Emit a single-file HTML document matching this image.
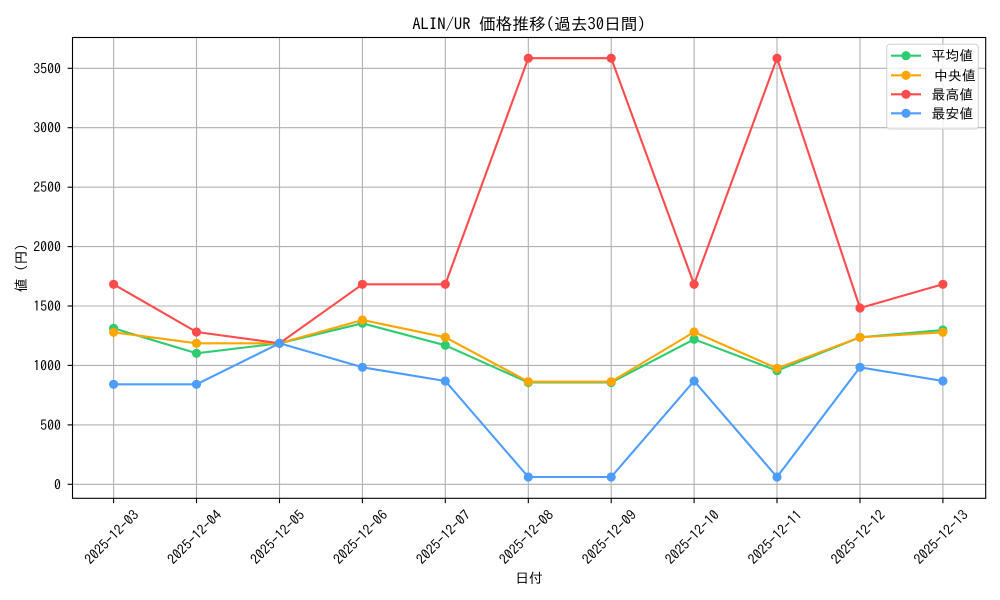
<!DOCTYPE html>
<html><head><meta charset="utf-8"><style>
html,body{margin:0;padding:0;background:#fff;}
svg{display:block;font-family:"IPAGothic","Liberation Sans","Noto Sans CJK JP",sans-serif;}
</style></head><body>
<svg width="1000" height="600" viewBox="0 0 1000 600" xmlns="http://www.w3.org/2000/svg">
<rect width="1000" height="600" fill="#fff"/>
<defs><clipPath id="ax"><rect x="72.5" y="37.5" width="913.2" height="460.8"/></clipPath></defs>
<!-- grid -->
<g stroke="#b0b0b0" stroke-width="1.1">
<line x1="113.6" y1="37.5" x2="113.6" y2="498.3"/>
<line x1="196.5" y1="37.5" x2="196.5" y2="498.3"/>
<line x1="279.5" y1="37.5" x2="279.5" y2="498.3"/>
<line x1="362.4" y1="37.5" x2="362.4" y2="498.3"/>
<line x1="445.3" y1="37.5" x2="445.3" y2="498.3"/>
<line x1="528.3" y1="37.5" x2="528.3" y2="498.3"/>
<line x1="611.2" y1="37.5" x2="611.2" y2="498.3"/>
<line x1="694.1" y1="37.5" x2="694.1" y2="498.3"/>
<line x1="777.0" y1="37.5" x2="777.0" y2="498.3"/>
<line x1="860.0" y1="37.5" x2="860.0" y2="498.3"/>
<line x1="942.9" y1="37.5" x2="942.9" y2="498.3"/>
<line x1="72.5" y1="484.3" x2="985.7" y2="484.3"/>
<line x1="72.5" y1="424.9" x2="985.7" y2="424.9"/>
<line x1="72.5" y1="365.4" x2="985.7" y2="365.4"/>
<line x1="72.5" y1="306.0" x2="985.7" y2="306.0"/>
<line x1="72.5" y1="246.6" x2="985.7" y2="246.6"/>
<line x1="72.5" y1="187.2" x2="985.7" y2="187.2"/>
<line x1="72.5" y1="127.7" x2="985.7" y2="127.7"/>
<line x1="72.5" y1="68.3" x2="985.7" y2="68.3"/>
</g>
<g clip-path="url(#ax)" stroke-width="2.1" fill="none" stroke-linejoin="round">
<!-- mean -->
<g stroke="#2ecc71">
<polyline points="113.6,328.3 196.5,353.3 279.5,343.3 362.4,323.3 445.3,345.3 528.3,382.5 611.2,382.5 694.1,339.3 777.0,370.7 860.0,337.3 942.9,330.0"/>
</g>
<g fill="#2ecc71" stroke="none">
<circle cx="113.6" cy="328.3" r="4.6"/><circle cx="196.5" cy="353.3" r="4.6"/><circle cx="279.5" cy="343.3" r="4.6"/><circle cx="362.4" cy="323.3" r="4.6"/><circle cx="445.3" cy="345.3" r="4.6"/><circle cx="528.3" cy="382.5" r="4.6"/><circle cx="611.2" cy="382.5" r="4.6"/><circle cx="694.1" cy="339.3" r="4.6"/><circle cx="777.0" cy="370.7" r="4.6"/><circle cx="860.0" cy="337.3" r="4.6"/><circle cx="942.9" cy="330.0" r="4.6"/>
</g>
<!-- median -->
<g stroke="#ffa500">
<polyline points="113.6,332.3 196.5,343.3 279.5,343.3 362.4,320.0 445.3,337.3 528.3,381.7 611.2,381.7 694.1,332.0 777.0,368.3 860.0,337.3 942.9,332.3"/>
</g>
<g fill="#ffa500" stroke="none">
<circle cx="113.6" cy="332.3" r="4.6"/><circle cx="196.5" cy="343.3" r="4.6"/><circle cx="279.5" cy="343.3" r="4.6"/><circle cx="362.4" cy="320.0" r="4.6"/><circle cx="445.3" cy="337.3" r="4.6"/><circle cx="528.3" cy="381.7" r="4.6"/><circle cx="611.2" cy="381.7" r="4.6"/><circle cx="694.1" cy="332.0" r="4.6"/><circle cx="777.0" cy="368.3" r="4.6"/><circle cx="860.0" cy="337.3" r="4.6"/><circle cx="942.9" cy="332.3" r="4.6"/>
</g>
<!-- max -->
<g stroke="#ff4b4b">
<polyline points="113.6,284.3 196.5,332.0 279.5,343.3 362.4,284.3 445.3,284.3 528.3,58.2 611.2,58.2 694.1,284.3 777.0,58.2 860.0,308.0 942.9,284.3"/>
</g>
<g fill="#ff4b4b" stroke="none">
<circle cx="113.6" cy="284.3" r="4.6"/><circle cx="196.5" cy="332.0" r="4.6"/><circle cx="279.5" cy="343.3" r="4.6"/><circle cx="362.4" cy="284.3" r="4.6"/><circle cx="445.3" cy="284.3" r="4.6"/><circle cx="528.3" cy="58.2" r="4.6"/><circle cx="611.2" cy="58.2" r="4.6"/><circle cx="694.1" cy="284.3" r="4.6"/><circle cx="777.0" cy="58.2" r="4.6"/><circle cx="860.0" cy="308.0" r="4.6"/><circle cx="942.9" cy="284.3" r="4.6"/>
</g>
<!-- min -->
<g stroke="#4d9dff">
<polyline points="113.6,384.3 196.5,384.3 279.5,343.3 362.4,367.3 445.3,381.0 528.3,477.0 611.2,477.0 694.1,381.0 777.0,477.0 860.0,367.3 942.9,381.0"/>
</g>
<g fill="#4d9dff" stroke="none">
<circle cx="113.6" cy="384.3" r="4.6"/><circle cx="196.5" cy="384.3" r="4.6"/><circle cx="279.5" cy="343.3" r="4.6"/><circle cx="362.4" cy="367.3" r="4.6"/><circle cx="445.3" cy="381.0" r="4.6"/><circle cx="528.3" cy="477.0" r="4.6"/><circle cx="611.2" cy="477.0" r="4.6"/><circle cx="694.1" cy="381.0" r="4.6"/><circle cx="777.0" cy="477.0" r="4.6"/><circle cx="860.0" cy="367.3" r="4.6"/><circle cx="942.9" cy="381.0" r="4.6"/>
</g>
</g>
<!-- axes frame -->
<rect x="72.5" y="37.5" width="913.2" height="460.8" fill="none" stroke="#000" stroke-width="1.1"/>
<!-- ticks -->
<g stroke="#000" stroke-width="1.1">
<line x1="67.6" y1="484.3" x2="72.5" y2="484.3"/>
<line x1="67.6" y1="424.9" x2="72.5" y2="424.9"/>
<line x1="67.6" y1="365.4" x2="72.5" y2="365.4"/>
<line x1="67.6" y1="306.0" x2="72.5" y2="306.0"/>
<line x1="67.6" y1="246.6" x2="72.5" y2="246.6"/>
<line x1="67.6" y1="187.2" x2="72.5" y2="187.2"/>
<line x1="67.6" y1="127.7" x2="72.5" y2="127.7"/>
<line x1="67.6" y1="68.3" x2="72.5" y2="68.3"/>
<line x1="113.6" y1="498.3" x2="113.6" y2="503.2"/>
<line x1="196.5" y1="498.3" x2="196.5" y2="503.2"/>
<line x1="279.5" y1="498.3" x2="279.5" y2="503.2"/>
<line x1="362.4" y1="498.3" x2="362.4" y2="503.2"/>
<line x1="445.3" y1="498.3" x2="445.3" y2="503.2"/>
<line x1="528.3" y1="498.3" x2="528.3" y2="503.2"/>
<line x1="611.2" y1="498.3" x2="611.2" y2="503.2"/>
<line x1="694.1" y1="498.3" x2="694.1" y2="503.2"/>
<line x1="777.0" y1="498.3" x2="777.0" y2="503.2"/>
<line x1="860.0" y1="498.3" x2="860.0" y2="503.2"/>
<line x1="942.9" y1="498.3" x2="942.9" y2="503.2"/>
</g>
<g font-size="13.9" fill="#000" text-anchor="end" dominant-baseline="central">
<text x="61" y="484.3">0</text>
<text x="61" y="424.9">500</text>
<text x="61" y="365.4">1000</text>
<text x="61" y="306.0">1500</text>
<text x="61" y="246.6">2000</text>
<text x="61" y="187.2">2500</text>
<text x="61" y="127.7">3000</text>
<text x="61" y="68.3">3500</text>
</g>
<g font-size="13.9" fill="#000" text-anchor="middle" dominant-baseline="central">
<text x="111.6" y="537" transform="rotate(-45 111.6 537)">2025-12-03</text>
<text x="194.5" y="537" transform="rotate(-45 194.5 537)">2025-12-04</text>
<text x="277.5" y="537" transform="rotate(-45 277.5 537)">2025-12-05</text>
<text x="360.4" y="537" transform="rotate(-45 360.4 537)">2025-12-06</text>
<text x="443.3" y="537" transform="rotate(-45 443.3 537)">2025-12-07</text>
<text x="526.3" y="537" transform="rotate(-45 526.3 537)">2025-12-08</text>
<text x="609.2" y="537" transform="rotate(-45 609.2 537)">2025-12-09</text>
<text x="692.1" y="537" transform="rotate(-45 692.1 537)">2025-12-10</text>
<text x="775.0" y="537" transform="rotate(-45 775.0 537)">2025-12-11</text>
<text x="858.0" y="537" transform="rotate(-45 858.0 537)">2025-12-12</text>
<text x="940.9" y="537" transform="rotate(-45 940.9 537)">2025-12-13</text>
</g>
<!-- labels -->
<text x="529" y="578" font-size="13.9" text-anchor="middle" dominant-baseline="central">日付</text>
<text x="21" y="268" font-size="13.9" text-anchor="middle" dominant-baseline="central" transform="rotate(-90 21 268)">値 (円)</text>
<text x="529" y="24.5" font-size="16.7" text-anchor="middle" dominant-baseline="central">ALIN/UR 価格推移(過去30日間)</text>
<!-- legend -->
<rect x="886.7" y="44.3" width="91.6" height="84.7" rx="3" ry="3" fill="#fff" fill-opacity="0.8" stroke="#d0d0d0" stroke-width="1"/>
<g stroke-width="2.1">
<line x1="891" y1="55.7" x2="921" y2="55.7" stroke="#2ecc71"/><circle cx="906" cy="55.7" r="4.6" fill="#2ecc71"/>
<line x1="891" y1="75.3" x2="921" y2="75.3" stroke="#ffa500"/><circle cx="906" cy="75.3" r="4.6" fill="#ffa500"/>
<line x1="891" y1="94.3" x2="921" y2="94.3" stroke="#ff4b4b"/><circle cx="906" cy="94.3" r="4.6" fill="#ff4b4b"/>
<line x1="891" y1="113.3" x2="921" y2="113.3" stroke="#4d9dff"/><circle cx="906" cy="113.3" r="4.6" fill="#4d9dff"/>
</g>
<g font-size="13.9" fill="#000" dominant-baseline="central">
<text x="931.5" y="55.7">平均値</text>
<text x="934" y="75.3">中央値</text>
<text x="931.5" y="94.3">最高値</text>
<text x="931.5" y="113.3">最安値</text>
</g>
</svg>
</body></html>
